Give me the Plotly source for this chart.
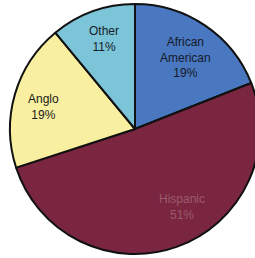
import plotly.graph_objects as go

labels = ["African American", "Hispanic", "Anglo", "Other"]
values = [19, 51, 19, 11]
display = ["African<br>American<br>19%", "Hispanic<br>51%", "Anglo<br>19%", "Other<br>11%"]
colors = ["#4a78c0", "#7a2640", "#f8f0a0", "#7cc4d8"]
text_colors = ["#141a2a", "#9a5a6c", "#1a1a1a", "#141e28"]
# label centres in pixels (x, y from top)
label_px = [(185, 58), (182, 207), (43, 107), (104, 39)]

W, H = 262, 258
fig = go.Figure(go.Pie(
    labels=labels, values=values, sort=False, direction="clockwise", rotation=0,
    marker=dict(colors=colors, line=dict(color="#111111", width=2)),
    textinfo="none", hoverinfo="label+percent", showlegend=False,
    domain=dict(x=[10 / W, 260 / W], y=[4 / H, 254 / H]),
))
for t, c, (px, py) in zip(display, text_colors, label_px):
    fig.add_annotation(x=px / W, y=1 - py / H, xref="paper", yref="paper",
                       text=t, showarrow=False, xanchor="center", yanchor="middle",
                       font=dict(family="Liberation Sans, Arial", size=12, color=c))
fig.update_layout(width=W, height=H, margin=dict(l=0, r=0, t=0, b=0),
                  paper_bgcolor="white", plot_bgcolor="white")
fig.write_html("out.html", config={"displayModeBar": False},
               post_script="document.body.style.margin='0';document.body.style.overflow='hidden';")
